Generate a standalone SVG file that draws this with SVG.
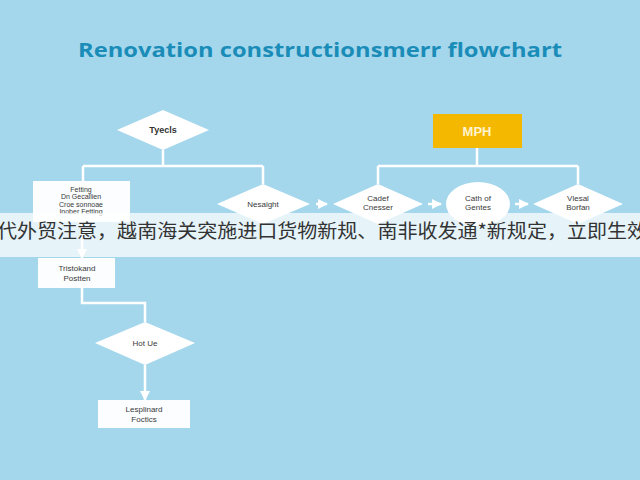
<svg xmlns="http://www.w3.org/2000/svg" width="640" height="480" viewBox="0 0 640 480">
<style>
.bg{fill:#a4d7ec}
.dia{fill:#ffffff}
.box{fill:#fbfdfe}
.ln{stroke:#ffffff;stroke-width:2.5;fill:none}
.t{font-family:"Liberation Sans",Arial,sans-serif;font-size:8px;fill:#3a3a3a;text-anchor:middle}
.tb{font-family:"Liberation Sans",Arial,sans-serif;font-size:9px;fill:#333;text-anchor:middle;font-weight:bold}
.fs{font-size:7px}
</style>
<defs>
<marker id="ah" viewBox="0 0 10 10" refX="9" refY="5" markerWidth="4" markerHeight="4" orient="auto"><path d="M0,0L10,5L0,10z" fill="#fff"/></marker>
</defs>
<rect class="bg" x="0" y="0" width="640" height="480"/>
<text x="320" y="57" font-family="'Open Sans','Liberation Sans',sans-serif" font-weight="bold" font-size="20" fill="#1a8cb8" text-anchor="middle" textLength="484" lengthAdjust="spacingAndGlyphs">Renovation constructionsmerr flowchart</text>
<g id="connectors">
<path class="ln" d="M163,150V166M83,166H263M83,166V181M263,166V184"/>
<path class="ln" d="M477,148V166M378,166H578M378,166V184M578,166V184"/>
<path class="ln" d="M316,204H327" marker-end="url(#ah)"/>
<path class="ln" d="M428,204H441" marker-end="url(#ah)"/>
<path class="ln" d="M515,204H528" marker-end="url(#ah)"/>
<path class="ln" d="M82,222V258" marker-end="url(#ah)"/>
<path class="ln" d="M82,288V303H145V322"/>
<path class="ln" d="M145,365V400" marker-end="url(#ah)"/>
</g>
<g id="n-tyecls"><path class="dia" d="M163,110L209,130L163,150L117,130z"/><text class="tb" x="163" y="133">Tyecls</text></g>
<g id="n-mph"><rect x="433" y="114" width="89" height="34" fill="#f5b800"/><text x="477" y="136" font-family="'Liberation Sans',Arial,sans-serif" font-weight="bold" font-size="13" fill="#fdf3d0" text-anchor="middle">MPH</text></g>
<g id="n-fetting"><rect class="box" x="33" y="181" width="97" height="41"/>
<text class="t fs" x="81" y="191.5">Fetting</text><text class="t fs" x="81" y="199">Dn Gecallien</text><text class="t fs" x="81" y="206.5">Croe sonnoae</text><text class="t fs" x="81" y="214" fill="#9aa">Inober Fetting</text></g>
<g id="n-nesaight"><path class="dia" d="M263,184L310,204L263,224L217,204z"/><text class="t" x="263" y="207" font-size="9">Nesaight</text></g>
<g id="n-cadef"><path class="dia" d="M378,184L423,204L378,224L333,204z"/><text class="t" x="378" y="201">Cadef</text><text class="t" x="378" y="210">Cnesser</text></g>
<g id="n-cath"><ellipse class="dia" cx="478" cy="204" rx="32" ry="22"/><text class="t" x="478" y="201">Cath of</text><text class="t" x="478" y="210">Gentes</text></g>
<g id="n-vlesal"><path class="dia" d="M578,184L623,204L578,224L533,204z"/><text class="t" x="578" y="201">Vlesal</text><text class="t" x="578" y="210">Borfan</text></g>
<g id="banner"><rect x="0" y="213" width="640" height="44" fill="#ffffff" opacity="0.72"/>
<text x="-3" y="238" font-family="'Noto Sans CJK SC','Noto Sans',sans-serif" font-size="19" fill="#333" textLength="650" lengthAdjust="spacingAndGlyphs">代外贸注意，越南海关突施进口货物新规、南非收发通*新规定，立即生效</text></g>
<g id="n-tristokand"><rect class="box" x="38" y="258" width="77" height="30"/><text class="t" x="77" y="271" fill="#888">Tristokand</text><text class="t" x="77" y="281">Postten</text></g>
<g id="n-hotue"><path class="dia" d="M145,322L195,343L145,365L95,343z"/><text class="t" x="145" y="346" font-size="9.5">Hot Ue</text></g>
<g id="n-lesplinard"><rect class="box" x="98" y="400" width="92" height="28"/><text class="t" x="144" y="412" font-size="8.5">Lesplinard</text><text class="t" x="144" y="422" font-size="8.5">Foctics</text></g>
</svg>
